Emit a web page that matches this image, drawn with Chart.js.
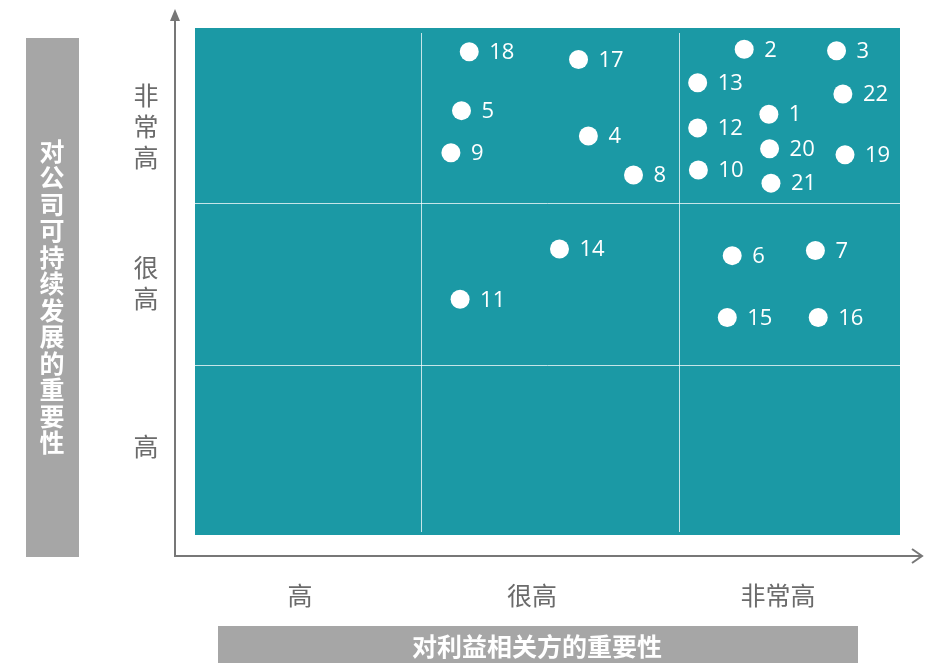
<!DOCTYPE html>
<html>
<head>
    <meta charset="UTF-8">
    <title>重要性矩阵</title>
    <script src="https://cdn.jsdelivr.net/npm/chart.js"></script>
    <style>
        body { margin: 0; background: #fff; }
        #wrap { width: 925px; height: 663px; position: relative; }
    </style>
</head>
<body>
    <div id="wrap">
        <canvas id="matrix"></canvas>
    </div>

    <script>
        // issue numbers and their positions (0-100 on each axis)
        var issueIds = ['1','2','3','4','5','6','7','8','9','10','11','12','13','14','15','16','17','18','19','20','21','22'];
        var stakeholderScore = [81.4, 77.9, 91.0, 55.8, 37.8, 76.2, 88.0, 62.2, 36.3, 71.4, 37.6, 71.3, 71.3, 51.7, 75.5, 88.4, 54.4, 38.9, 92.2, 81.5, 81.7, 91.9];
        var companyScore = [83.0, 95.8, 95.5, 78.7, 83.7, 55.1, 56.1, 71.0, 75.4, 72.0, 46.5, 80.3, 89.2, 56.4, 42.9, 42.9, 93.8, 95.3, 75.0, 76.2, 69.4, 87.0];

        // level bands and tick labels
        var xDividers = [32.1, 68.7];
        var yDividers = [33.5, 65.5];
        var xLevelLabels = ['高', '很高', '非常高'];
        var xLevelPos = [14.9, 47.8, 82.7];
        var yLevelLabels = [['高'], ['很', '高'], ['非', '常', '高']];
        var yLevelPos = [17.4, 49.7, 80.5];
        var xTitle = '对利益相关方的重要性';
        var yTitle = '对公司可持续发展的重要性';

        var cjk = '"Noto Sans CJK SC", "Noto Sans", sans-serif';

        var points = stakeholderScore.map(function (v, i) {
            return { x: v, y: companyScore[i] };
        });

        var matrixPlugin = {
            id: 'matrix',
            beforeDatasetsDraw: function (chart) {
                var ctx = chart.ctx;
                var a = chart.chartArea;
                var xs = chart.scales.x, ys = chart.scales.y;
                ctx.save();
                // teal panel
                ctx.fillStyle = '#1b99a5';
                ctx.fillRect(a.left, a.top, a.right - a.left, a.bottom - a.top);
                // dividers
                ctx.strokeStyle = 'rgba(255,255,255,0.75)';
                ctx.lineWidth = 1;
                xDividers.forEach(function (v) {
                    var px = Math.round(xs.getPixelForValue(v)) + 0.5;
                    ctx.beginPath();
                    ctx.moveTo(px, a.top + 5);
                    ctx.lineTo(px, a.bottom - 3);
                    ctx.stroke();
                });
                yDividers.forEach(function (v) {
                    var py = Math.round(ys.getPixelForValue(v)) + 0.5;
                    ctx.beginPath();
                    ctx.moveTo(a.left, py);
                    ctx.lineTo(a.right, py);
                    ctx.stroke();
                });

                // axes with arrows
                var ox = a.left - 20, oy = a.bottom + 21;
                ctx.strokeStyle = '#777';
                ctx.fillStyle = '#777';
                ctx.lineWidth = 2;
                ctx.beginPath();
                ctx.moveTo(ox, oy);
                ctx.lineTo(ox, 16);
                ctx.moveTo(ox - 1, oy);
                ctx.lineTo(921, oy);
                ctx.stroke();
                ctx.beginPath();
                ctx.moveTo(ox, 9);
                ctx.lineTo(ox - 5, 21);
                ctx.lineTo(ox + 5, 21);
                ctx.closePath();
                ctx.fill();
                ctx.beginPath();
                ctx.moveTo(912, oy - 7);
                ctx.lineTo(922, oy);
                ctx.lineTo(912, oy + 7);
                ctx.stroke();

                // level labels
                ctx.fillStyle = '#6b6b6b';
                ctx.font = '25px ' + cjk;
                ctx.textAlign = 'center';
                ctx.textBaseline = 'middle';
                xLevelLabels.forEach(function (t, i) {
                    ctx.fillText(t, xs.getPixelForValue(xLevelPos[i]), 595);
                });
                yLevelLabels.forEach(function (chars, i) {
                    var cy = ys.getPixelForValue(yLevelPos[i]);
                    var step = 31;
                    var start = cy - (chars.length - 1) * step / 2;
                    chars.forEach(function (c, j) {
                        ctx.fillText(c, 146, start + j * step);
                    });
                });

                // axis title boxes
                ctx.fillStyle = '#a6a6a6';
                ctx.fillRect(26, 38, 53, 519);
                ctx.fillRect(218, 626, 640, 37);
                ctx.fillStyle = '#fff';
                ctx.font = 'bold 25px ' + cjk;
                var yChars = yTitle.split('');
                var ystep = 26.5;
                var y0 = 297 - (yChars.length - 1) * ystep / 2;
                yChars.forEach(function (c, j) {
                    ctx.fillText(c, 52, y0 + j * ystep);
                });
                ctx.fillText(xTitle, 537, 646);
                ctx.restore();
            },
            afterDatasetsDraw: function (chart) {
                var ctx = chart.ctx;
                var meta = chart.getDatasetMeta(0);
                ctx.save();
                ctx.fillStyle = '#fff';
                ctx.font = '22px "Open Sans", sans-serif';
                ctx.textAlign = 'left';
                ctx.textBaseline = 'middle';
                meta.data.forEach(function (el, i) {
                    ctx.fillText(issueIds[i], el.x + 20, el.y + 1);
                });
                ctx.restore();
            }
        };

        var ctx = document.getElementById('matrix').getContext('2d');
        var chart = new Chart(ctx, {
            type: 'scatter',
            data: {
                labels: issueIds,
                datasets: [{
                    label: '议题',
                    data: points,
                    pointRadius: 9.5,
                    pointHoverRadius: 9.5,
                    pointBackgroundColor: '#ffffff',
                    pointBorderWidth: 0
                }]
            },
            options: {
                responsive: true,
                maintainAspectRatio: false,
                animation: false,
                layout: {
                    padding: { left: 195, right: 25, top: 28, bottom: 128 }
                },
                scales: {
                    x: { type: 'linear', min: 0, max: 100, display: false },
                    y: { type: 'linear', min: 0, max: 100, display: false }
                },
                plugins: {
                    legend: { display: false },
                    tooltip: { enabled: false }
                }
            },
            plugins: [matrixPlugin]
        });
    </script>
</body>
</html>
